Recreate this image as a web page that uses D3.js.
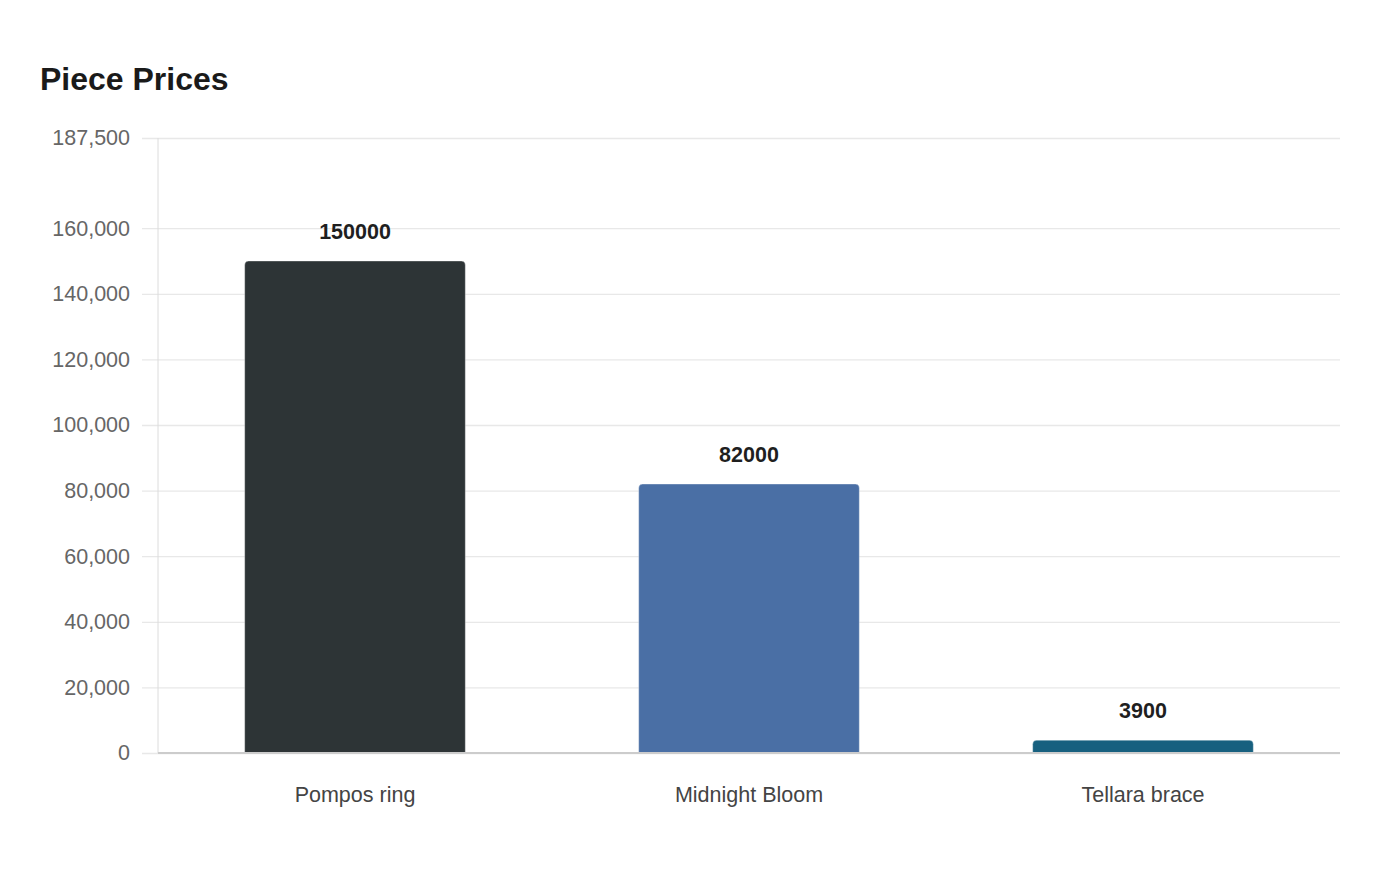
<!DOCTYPE html>
<html>
<head>
<meta charset="utf-8">
<script src="https://cdn.jsdelivr.net/npm/d3@7"></script>
<style>
  body { margin: 0; background: #fff; font-family: "Liberation Sans", Arial, sans-serif; }
</style>
</head>
<body>
<svg id="chart" width="1400" height="880"></svg>
<script>
const categories = ['Pompos ring', 'Midnight Bloom', 'Tellara brace']
const prices = [150000, 82000, 3900]
const barColors = ['#2d3436', '#4a6fa5', '#17607f']
const yTicks = [0, 20000, 40000, 60000, 80000, 100000, 120000, 140000, 160000, 187500]
const yMax = 187500

const width = 1400
const height = 880
const margin = ({ top: 138, right: 60, bottom: 127, left: 158 })

const svg = d3.select('#chart')

svg.append('text')
  .attr('x', 40)
  .attr('y', 90)
  .attr('font-size', 32)
  .attr('font-weight', 'bold')
  .attr('fill', '#1a1a1a')
  .text('Piece Prices')

const x = d3.scaleBand()
  .domain(categories)
  .range([margin.left, width - margin.right])
  .paddingInner(0.44)
  .paddingOuter(0.22)

const y = d3.scaleLinear()
  .domain([0, yMax])
  .range([height - margin.bottom, margin.top])

// grid + y labels
const yAxis = g => g
  .attr('transform', `translate(${margin.left},0)`)
  .call(d3.axisLeft(y)
    .tickValues(yTicks)
    .tickFormat(d3.format(','))
    .tickSize(-(width - margin.left - margin.right))
    .tickPadding(28))
  .call(g => g.select('.domain').remove())
  .call(g => g.selectAll('.tick line')
    .attr('stroke', '#e8e8e8')
    .attr('stroke-width', 1.3)
    .attr('x1', -16))
  .call(g => g.selectAll('.tick text')
    .attr('fill', '#666')
    .attr('font-size', 21.5)
    .attr('font-family', '"Liberation Sans", Arial, sans-serif'))

svg.append('g').call(yAxis)

// vertical axis line
svg.append('line')
  .attr('x1', margin.left).attr('x2', margin.left)
  .attr('y1', margin.top).attr('y2', height - margin.bottom)
  .attr('stroke', '#dcdcdc')
  .attr('stroke-width', 1)

const barPath = (x0, y0, w, h, r) => {
  r = Math.min(r, h, w / 2)
  return `M${x0},${y0 + h}V${y0 + r}Q${x0},${y0} ${x0 + r},${y0}H${x0 + w - r}Q${x0 + w},${y0} ${x0 + w},${y0 + r}V${y0 + h}Z`
}

svg.append('g')
  .selectAll('path')
  .data(prices)
  .join('path')
  .attr('d', (d, i) => barPath(x(categories[i]), y(d), x.bandwidth(), y(0) - y(d), 4))
  .attr('fill', (d, i) => barColors[i])
  .attr('stroke', 'rgba(255,255,255,0.35)')
  .attr('stroke-width', 1)

// baseline
svg.append('line')
  .attr('x1', margin.left).attr('x2', width - margin.right)
  .attr('y1', y(0)).attr('y2', y(0))
  .attr('stroke', '#cccccc')
  .attr('stroke-width', 2)

// value labels
svg.append('g')
  .selectAll('text')
  .data(prices)
  .join('text')
  .attr('x', (d, i) => x(categories[i]) + x.bandwidth() / 2)
  .attr('y', d => y(d) - 22)
  .attr('text-anchor', 'middle')
  .attr('font-size', 21.5)
  .attr('font-weight', 'bold')
  .attr('fill', '#1f1f1f')
  .text(d => d)

// category labels
const xAxis = g => g
  .attr('transform', `translate(0,${y(0)})`)
  .call(d3.axisBottom(x).tickSize(0).tickPadding(34))
  .call(g => g.select('.domain').remove())
  .call(g => g.selectAll('.tick text')
    .attr('fill', '#444')
    .attr('font-size', 21.5)
    .attr('font-family', '"Liberation Sans", Arial, sans-serif'))

svg.append('g').call(xAxis)
</script>
</body>
</html>
